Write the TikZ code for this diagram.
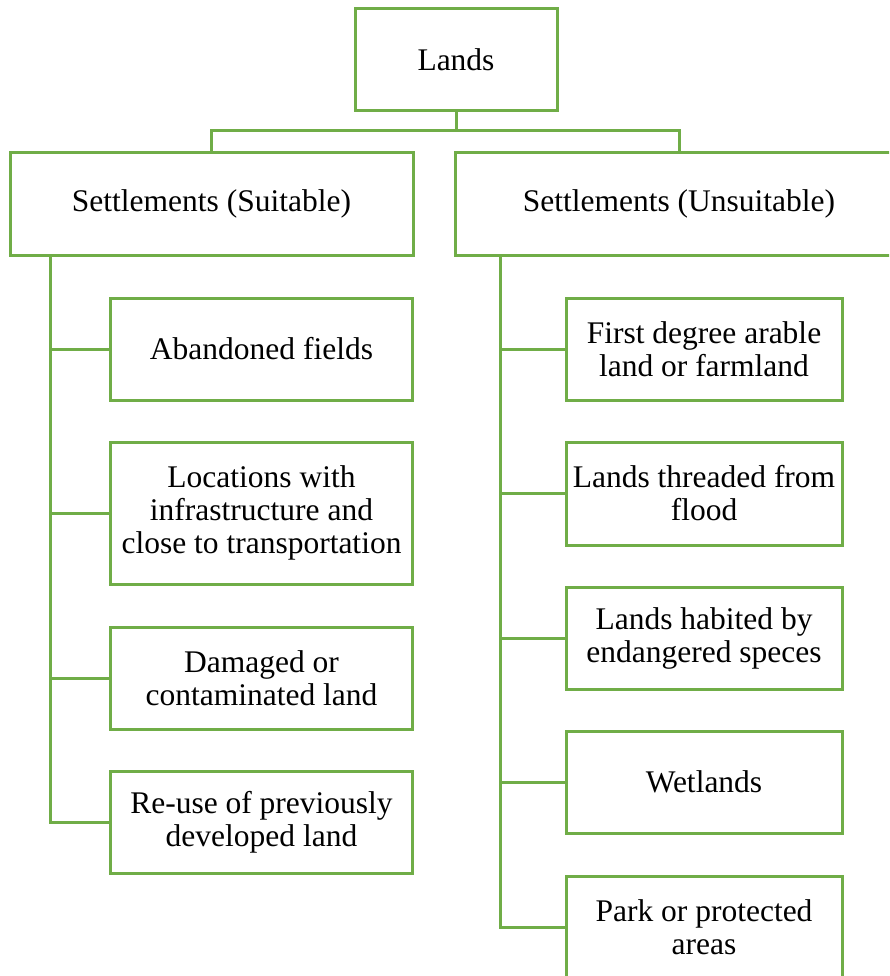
\documentclass[tikz,border=0pt]{standalone}
\usepackage{fontspec}
\setmainfont{Liberation Serif}
\definecolor{lg}{HTML}{70AD47}
\begin{document}
\begin{tikzpicture}[x=1pt,y=-1pt,
 box/.style={draw=lg, line width=3pt, fill=white, align=center, inner sep=0pt, font=\fontsize{31.5}{33}\selectfont, text=black},
 conn/.style={draw=lg, line width=3pt}]
\path[use as bounding box, clip] (0,0) rectangle (889,976);
\fill[white] (0,0) rectangle (889,976);
% top
\node[box, minimum width=202, minimum height=102] (lands) at (456,60) {Lands};
\node[box, minimum width=403, minimum height=102] (suit) at (211.5,204) {Settlements (Suitable)};
\node[box, minimum width=448, minimum height=102] (unsuit) at (679,204) {Settlements (Unsuitable)};
\coordinate (j) at (456,131);
\draw[conn] (lands.south) -- (j);
\draw[conn] (suit.north) |- (j) -| (unsuit.north);
% left children
\node[box, minimum width=302, minimum height=102] (ab) at (261.5,349) {Abandoned fields};
\node[box, minimum width=302, minimum height=142] (loc) at (261.5,513) {Locations with\\infrastructure and\\close to transportation};
\node[box, minimum width=302, minimum height=102] (dam) at (261.5,678) {Damaged or\\contaminated land};
\node[box, minimum width=302, minimum height=102] (reuse) at (261.5,822) {Re-use of previously\\developed land};
\coordinate (ls) at (50,255);
\draw[conn] (ls) |- (ab.west);
\draw[conn] (ls) |- (loc.west);
\draw[conn] (ls) |- (dam.west);
\draw[conn] (ls) |- (reuse.west);
% right children
\node[box, minimum width=276, minimum height=102] (fd) at (704,349) {First degree arable\\land or farmland};
\node[box, minimum width=276, minimum height=103] (thr) at (704,493.5) {Lands threaded from\\flood};
\node[box, minimum width=276, minimum height=102] (hab) at (704,638) {Lands habited by\\endangered speces};
\node[box, minimum width=276, minimum height=102] (wet) at (704,782) {Wetlands};
\node[box, minimum width=276, minimum height=102] (park) at (704,927) {Park or protected\\areas};
\coordinate (rs) at (500,255);
\draw[conn] (rs) |- (fd.west);
\draw[conn] (rs) |- (thr.west);
\draw[conn] (rs) |- (hab.west);
\draw[conn] (rs) |- (wet.west);
\draw[conn] (rs) |- (park.west);
\end{tikzpicture}
\end{document}
